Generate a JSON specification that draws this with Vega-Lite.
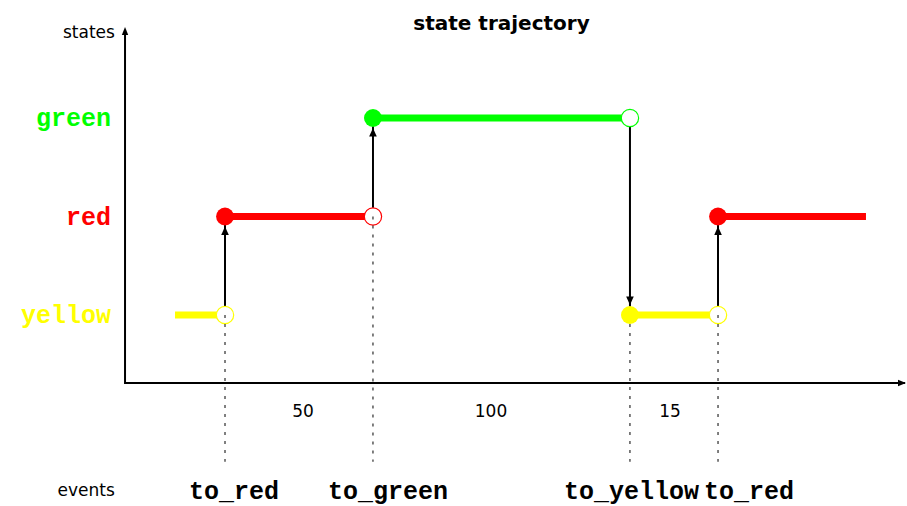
{
  "$schema": "https://vega.github.io/schema/vega-lite/v6.json",
  "width": 907,
  "height": 466,
  "autosize": {"type": "none"},
  "padding": {"left": 0, "right": 0, "top": 40, "bottom": 0},
  "background": "white",
  "config": {"view": {"stroke": null}},
  "title": {
    "text": "state trajectory",
    "anchor": "middle",
    "frame": "group",
    "dx": 48,
    "offset": -10,
    "font": "DejaVu Sans",
    "fontSize": 20,
    "fontWeight": "bold",
    "color": "black"
  },
  "datasets": {
    "segments": [
      {"state": "yellow", "level": 1, "start": 6.41, "end": 12.82},
      {"state": "red", "level": 2, "start": 12.82, "end": 31.79},
      {"state": "green", "level": 3, "start": 31.79, "end": 64.74},
      {"state": "yellow", "level": 1, "start": 64.74, "end": 76.03},
      {"state": "red", "level": 2, "start": 76.03, "end": 95.0}
    ],
    "events": [
      {"event": "to_red", "t": 12.82, "label_t": 13.97, "from": "yellow", "from_level": 1, "to": "red", "to_level": 2},
      {"event": "to_green", "t": 31.79, "label_t": 33.72, "from": "red", "from_level": 2, "to": "green", "to_level": 3},
      {"event": "to_yellow", "t": 64.74, "label_t": 64.94, "from": "green", "from_level": 3, "to": "yellow", "to_level": 1},
      {"event": "to_red", "t": 76.03, "label_t": 80.0, "from": "yellow", "from_level": 1, "to": "red", "to_level": 2}
    ],
    "durations": [
      {"duration": 50, "t": 22.82},
      {"duration": 100, "t": 46.92},
      {"duration": 15, "t": 69.87}
    ],
    "states": [
      {"state": "green", "level": 3},
      {"state": "red", "level": 2},
      {"state": "yellow", "level": 1}
    ],
    "one": [{}]
  },
  "layer": [
    {
      "data": {"name": "one"},
      "mark": {"type": "rule", "color": "black", "strokeWidth": 2},
      "encoding": {
        "x": {"datum": 0, "type": "quantitative", "scale": {"domain": [-16.03, 100.26], "nice": false, "zero": false}, "axis": null},
        "x2": {"datum": 100},
        "y": {"datum": 0.31, "type": "quantitative", "scale": {"domain": [-0.939, 3.792], "nice": false, "zero": false}, "axis": null}
      }
    },
    {
      "data": {"name": "one"},
      "mark": {"type": "rule", "color": "black", "strokeWidth": 2},
      "encoding": {
        "x": {"datum": 0, "type": "quantitative"},
        "y": {"datum": 0.3, "type": "quantitative"},
        "y2": {"datum": 3.85}
      }
    },
    {
      "data": {"name": "one"},
      "mark": {"type": "point", "shape": "M0,0 L-1,-0.4 L-1,0.4 Z", "filled": true, "color": "black", "opacity": 1, "size": 256, "strokeWidth": 0},
      "encoding": {
        "x": {"datum": 100.13, "type": "quantitative"},
        "y": {"datum": 0.31, "type": "quantitative"}
      }
    },
    {
      "data": {"name": "one"},
      "mark": {"type": "point", "shape": "M0,0 L-0.4,1 L0.4,1 Z", "filled": true, "color": "black", "opacity": 1, "size": 256, "strokeWidth": 0},
      "encoding": {
        "x": {"datum": 0, "type": "quantitative"},
        "y": {"datum": 3.924, "type": "quantitative"}
      }
    },
    {
      "data": {"name": "segments"},
      "mark": {"type": "rule", "strokeWidth": 7, "strokeCap": "butt"},
      "encoding": {
        "x": {"field": "start", "type": "quantitative"},
        "x2": {"field": "end"},
        "y": {"field": "level", "type": "quantitative"},
        "color": {"field": "state", "type": "nominal", "scale": {"domain": ["yellow", "red", "green"], "range": ["#ffff00", "#ff0000", "#00ff00"]}, "legend": null}
      }
    },
    {
      "data": {"name": "events"},
      "mark": {"type": "rule", "color": "black", "strokeWidth": 2},
      "encoding": {
        "x": {"field": "t", "type": "quantitative"},
        "y": {"field": "from_level", "type": "quantitative"},
        "y2": {"field": "to_level"}
      }
    },
    {
      "data": {"name": "events"},
      "mark": {"type": "point", "shape": "circle", "filled": true, "fill": "white", "opacity": 1, "size": 300, "strokeWidth": 1.2},
      "encoding": {
        "x": {"field": "t", "type": "quantitative"},
        "y": {"field": "from_level", "type": "quantitative"},
        "stroke": {"field": "from", "type": "nominal", "scale": {"domain": ["yellow", "red", "green"], "range": ["#ffff00", "#ff0000", "#00ff00"]}, "legend": null}
      }
    },
    {
      "data": {"name": "events"},
      "transform": [{"filter": "datum.to_level > datum.from_level"}],
      "mark": {"type": "rule", "color": "black", "strokeWidth": 1, "strokeDash": [3, 6]},
      "encoding": {
        "x": {"field": "t", "type": "quantitative"},
        "y": {"field": "from_level", "type": "quantitative"},
        "y2": {"datum": -0.49}
      }
    },
    {
      "data": {"name": "events"},
      "transform": [{"filter": "datum.to_level < datum.from_level"}],
      "mark": {"type": "rule", "color": "black", "strokeWidth": 1, "strokeDash": [3, 6]},
      "encoding": {
        "x": {"field": "t", "type": "quantitative"},
        "y": {"field": "to_level", "type": "quantitative"},
        "y2": {"datum": -0.49}
      }
    },
    {
      "data": {"name": "events"},
      "mark": {"type": "point", "shape": "circle", "filled": true, "opacity": 1, "size": 320, "strokeWidth": 0},
      "encoding": {
        "x": {"field": "t", "type": "quantitative"},
        "y": {"field": "to_level", "type": "quantitative"},
        "fill": {"field": "to", "type": "nominal", "scale": {"domain": ["yellow", "red", "green"], "range": ["#ffff00", "#ff0000", "#00ff00"]}, "legend": null}
      }
    },
    {
      "data": {"name": "events"},
      "transform": [{"filter": "datum.to_level > datum.from_level"}],
      "mark": {"type": "point", "shape": "M0,1 L-0.38,1.85 L0.38,1.85 Z", "filled": true, "color": "black", "opacity": 1, "size": 400, "strokeWidth": 0},
      "encoding": {
        "x": {"field": "t", "type": "quantitative"},
        "y": {"field": "to_level", "type": "quantitative"}
      }
    },
    {
      "data": {"name": "events"},
      "transform": [{"filter": "datum.to_level < datum.from_level"}],
      "mark": {"type": "point", "shape": "M0,-1 L-0.38,-1.85 L0.38,-1.85 Z", "filled": true, "color": "black", "opacity": 1, "size": 400, "strokeWidth": 0},
      "encoding": {
        "x": {"field": "t", "type": "quantitative"},
        "y": {"field": "to_level", "type": "quantitative"}
      }
    },
    {
      "data": {"name": "states"},
      "mark": {"type": "text", "align": "right", "baseline": "middle", "font": "Liberation Mono", "fontWeight": "bold", "fontSize": 25},
      "encoding": {
        "x": {"datum": -1.8, "type": "quantitative"},
        "y": {"field": "level", "type": "quantitative"},
        "text": {"field": "state"},
        "color": {"field": "state", "type": "nominal", "scale": {"domain": ["yellow", "red", "green"], "range": ["#ffff00", "#ff0000", "#00ff00"]}, "legend": null}
      }
    },
    {
      "data": {"name": "events"},
      "mark": {"type": "text", "align": "center", "baseline": "middle", "font": "Liberation Mono", "fontWeight": "bold", "fontSize": 25, "color": "black"},
      "encoding": {
        "x": {"field": "label_t", "type": "quantitative"},
        "y": {"datum": -0.79, "type": "quantitative"},
        "text": {"field": "event"}
      }
    },
    {
      "data": {"name": "durations"},
      "mark": {"type": "text", "align": "center", "baseline": "middle", "font": "DejaVu Sans", "fontSize": 17, "color": "black"},
      "encoding": {
        "x": {"field": "t", "type": "quantitative"},
        "y": {"datum": 0.015, "type": "quantitative"},
        "text": {"field": "duration"}
      }
    },
    {
      "data": {"name": "one"},
      "mark": {"type": "text", "align": "right", "baseline": "middle", "font": "DejaVu Sans", "fontSize": 17, "color": "black", "text": "states"},
      "encoding": {
        "x": {"datum": -1.3, "type": "quantitative"},
        "y": {"datum": 3.86, "type": "quantitative"}
      }
    },
    {
      "data": {"name": "one"},
      "mark": {"type": "text", "align": "right", "baseline": "middle", "font": "DejaVu Sans", "fontSize": 17, "color": "black", "text": "events"},
      "encoding": {
        "x": {"datum": -1.3, "type": "quantitative"},
        "y": {"datum": -0.79, "type": "quantitative"}
      }
    }
  ]
}
